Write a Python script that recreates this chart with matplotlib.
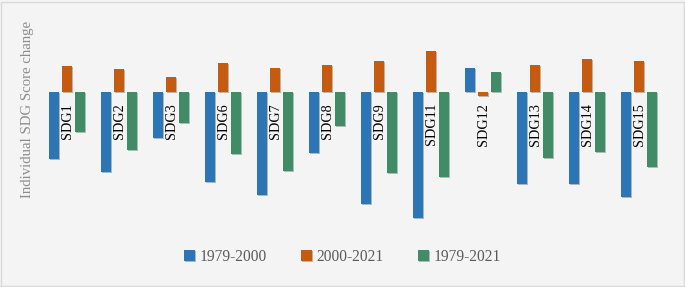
import matplotlib.pyplot as plt
import matplotlib.patheffects as pe
import numpy as np

goals = ['SDG1', 'SDG2', 'SDG3', 'SDG6', 'SDG7', 'SDG8',
         'SDG9', 'SDG11', 'SDG12', 'SDG13', 'SDG14', 'SDG15']
p1979_2000 = [-67, -80, -46, -90, -103, -61, -112, -126, 24, -92, -92, -105]
p2000_2021 = [26, 23, 15, 29, 24, 27, 31, 41, -4, 27, 33, 31]
p1979_2021 = [-40, -58, -31, -62, -79, -34, -81, -85, 20, -66, -60, -75]

series = [('1979-2000', p1979_2000, '#2e75b6'),
          ('2000-2021', p2000_2021, '#c55a11'),
          ('1979-2021', p1979_2021, '#418c66')]

bg = '#f4f4f4'
fig = plt.figure(figsize=(6.85, 2.87), dpi=100, facecolor=bg)
ax = fig.add_axes([0, 0, 1, 1], facecolor=bg)

x = np.arange(len(goals))
w = 0.19
step = 0.25
shadow = [pe.SimplePatchShadow(offset=(0.8, -0.8), alpha=0.35, rho=0.6), pe.Normal()]
for i, (name, vals, col) in enumerate(series):
    bars = ax.bar(x + (i - 1) * step, vals, w, color=col, label=name)
    for b in bars:
        b.set_path_effects(shadow)

for xi, g in zip(x, goals):
    ax.text(xi, -11, g, rotation=90, ha='center', va='top',
            fontsize=10.2, family='Liberation Serif', color='black')

# pixel-ish layout: zero line at y=92 from top, figure 287 high
ax.set_ylim(-195, 92)
ax.set_xlim(-67 / 52, (685 - 67) / 52)
ax.axis('off')

fig.text(0.04, 1 - 109 / 287, 'Individual SDG Score change', rotation=90,
         ha='center', va='center', fontsize=10.6, family='Liberation Serif',
         color='#8c8c8c')

leg = fig.legend(loc='center', bbox_to_anchor=(0.5, 1 - 257 / 287), ncol=3,
                 frameon=False, handlelength=0.7, handleheight=0.7,
                 handletextpad=0.3, columnspacing=2.2,
                 prop={'family': 'Liberation Serif', 'size': 11.2})
for t in leg.get_texts():
    t.set_color('#595959')

fig.patches.append(plt.Rectangle((0.002, 0.004), 0.996, 0.99, transform=fig.transFigure,
                                 fill=False, edgecolor='#d9d9d9', linewidth=1))

fig.savefig('out.png', dpi=100, facecolor=bg)
